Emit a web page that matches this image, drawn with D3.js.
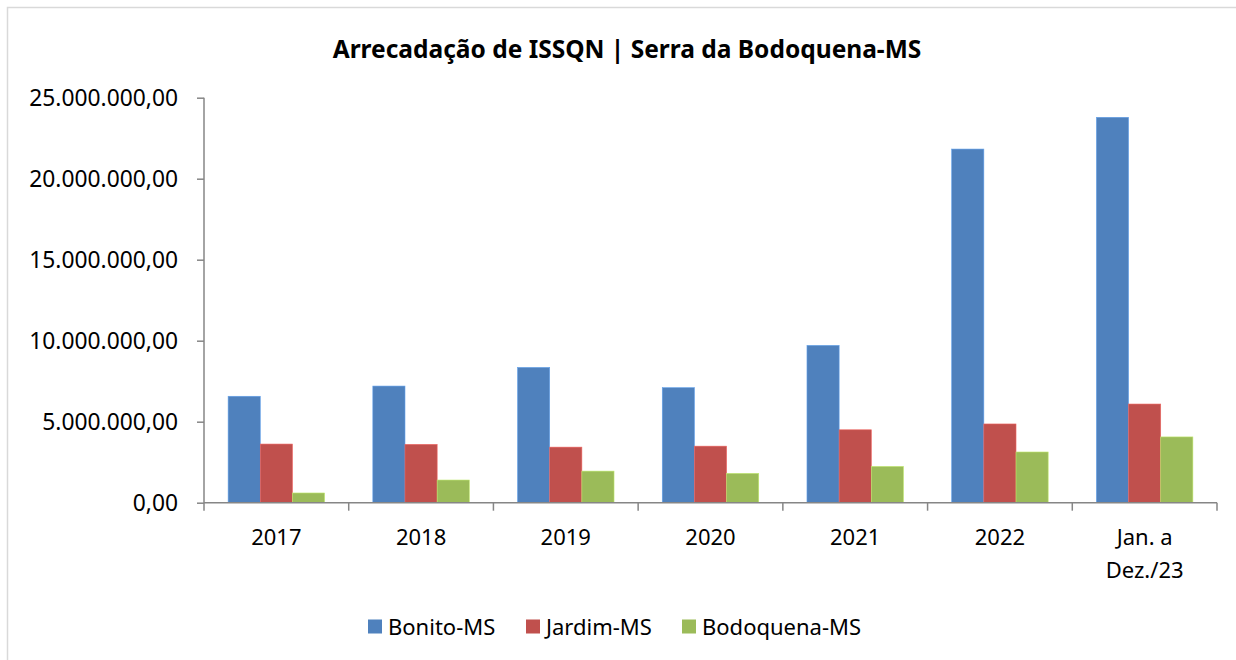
<!DOCTYPE html>
<html>
<head>
<meta charset="utf-8">
<script src="https://cdn.jsdelivr.net/npm/d3@7"></script>
<style>
  body { margin: 0; background: #fff; }
  text { font-family: "Noto Sans", "Open Sans", sans-serif; fill: #000; }
</style>
</head>
<body>
<svg id="chart" width="1236" height="660"></svg>
<script>
// data
const categories = ["2017", "2018", "2019", "2020", "2021", "2022", "Jan. a|Dez./23"];
const seriesNames = ["Bonito-MS", "Jardim-MS", "Bodoquena-MS"];
const bonito    = [6570000, 7200000, 8350000, 7100000, 9710000, 21830000, 23790000];
const jardim    = [3620000, 3600000, 3430000, 3490000, 4500000, 4860000, 6090000];
const bodoquena = [600000, 1400000, 1950000, 1810000, 2240000, 3130000, 4060000];
const yTicks = [0, 5000000, 10000000, 15000000, 20000000, 25000000];
const colors = ["#4F81BD", "#C0504D", "#9BBB59"];

const allSeries = [bonito, jardim, bodoquena];

const svg = d3.select("#chart");

// outer frame (right and bottom sides fall outside the picture)
svg.append("rect")
	.attr("x", 7.5).attr("y", 7.5)
	.attr("width", 1260).attr("height", 670)
	.attr("fill", "none")
	.attr("stroke", "#D9D9D9")
	.attr("stroke-width", 1.5);

svg.append("text")
	.attr("x", 627).attr("y", 58)
	.attr("text-anchor", "middle")
	.style("font-size", "24.5px")
	.style("font-weight", "bold")
	.text("Arrecadação de ISSQN | Serra da Bodoquena-MS");

const pLeft = 204, pRight = 1217, pTop = 97.7, pBottom = 502.7;

const x = d3.scaleBand().domain(categories).range([pLeft, pRight]).paddingInner(0).paddingOuter(0);
// gap width 150% -> group takes 3/4.5 of the category
const xs = d3.scaleBand().domain(seriesNames).range([0, x.bandwidth()]).paddingInner(0).paddingOuter(0.75);
const y = d3.scaleLinear().domain([0, 25000000]).range([pBottom, pTop]);

const fmt = v => d3.format(",.2f")(v).replace(/,/g, "#").replace(".", ",").replace(/#/g, ".");

// bars
const g = svg.append("g");
categories.forEach((c, i) => {
	allSeries.forEach((s, j) => {
		g.append("rect")
			.attr("x", x(c) + xs(seriesNames[j]))
			.attr("y", y(s[i]))
			.attr("width", xs.bandwidth())
			.attr("height", y(0) - y(s[i]))
			.attr("fill", colors[j])
			.attr("stroke", d3.color(colors[j]).brighter(0.6))
			.attr("stroke-width", 0.6);
	});
});

// y axis
const yAxis = svg.append("g")
	.attr("transform", `translate(${pLeft},0)`)
	.call(d3.axisLeft(y).tickValues(yTicks).tickSize(7).tickPadding(19).tickFormat(fmt));
yAxis.attr("font-family", null);
yAxis.select(".domain").attr("stroke", "#868686").attr("stroke-width", 1.5).attr("d", `M0,${pTop}V${pBottom + 8}`);
yAxis.selectAll(".tick line").attr("stroke", "#868686").attr("stroke-width", 1.5);
yAxis.selectAll(".tick text").style("font-size", "22.8px").attr("dy", "0.36em");

// x axis
const xAxis = svg.append("g").attr("transform", `translate(0,${pBottom})`);
xAxis.append("line")
	.attr("x1", pLeft).attr("x2", pRight)
	.attr("stroke", "#868686").attr("stroke-width", 1.5);
xAxis.selectAll("line.tk")
	.data(categories)
	.enter().append("line")
	.attr("class", "tk")
	.attr("x1", d => x(d) + x.bandwidth())
	.attr("x2", d => x(d) + x.bandwidth())
	.attr("y1", 0).attr("y2", 8)
	.attr("stroke", "#868686").attr("stroke-width", 1.5);

categories.forEach(c => {
	const lines = c.split("|");
	const t = xAxis.append("text")
		.attr("x", x(c) + x.bandwidth() / 2)
		.attr("y", 42)
		.attr("text-anchor", "middle")
		.style("font-size", "22px");
	lines.forEach((l, k) => {
		t.append("tspan").attr("x", x(c) + x.bandwidth() / 2).attr("dy", k === 0 ? 0 : 33).text(l);
	});
});

// legend
const legendX = [368, 526, 682];
seriesNames.forEach((n, j) => {
	svg.append("rect")
		.attr("x", legendX[j]).attr("y", 619.5)
		.attr("width", 14).attr("height", 14)
		.attr("fill", colors[j]);
	svg.append("text")
		.attr("x", legendX[j] + 20).attr("y", 634.5)
		.style("font-size", "22px")
		.text(n);
});
</script>
</body>
</html>
